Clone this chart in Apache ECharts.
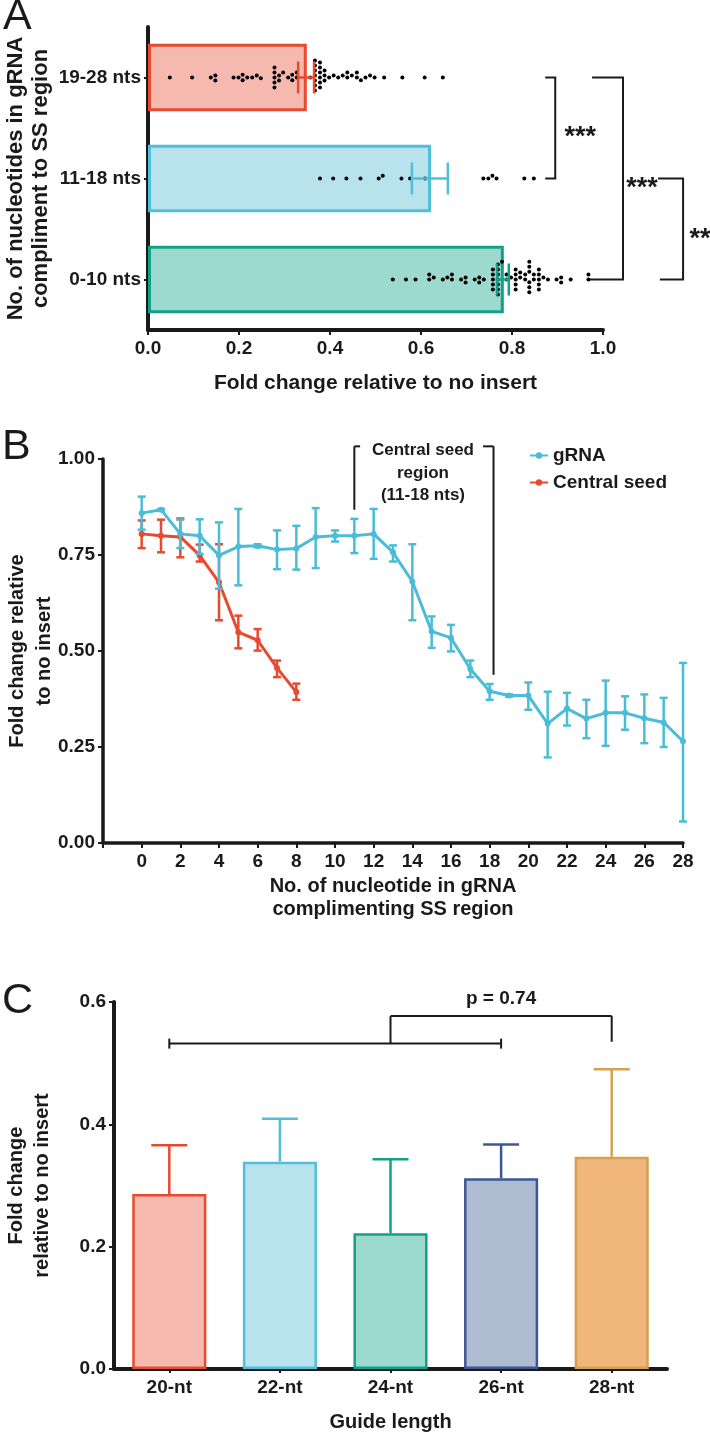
<!DOCTYPE html>
<html>
<head>
<meta charset="utf-8">
<script src="https://cdn.jsdelivr.net/npm/echarts@6/dist/echarts.min.js"></script>
<style>
    html, body { margin: 0; padding: 0; background: #fff; }
    #chart { width: 710px; height: 1433px; }
</style>
</head>
<body>
<div id="chart"></div>
<script>
// ---------- panel A : fold change by complementary region ----------
var aCategories = ['0-10 nts', '11-18 nts', '19-28 nts'];
var aMeans = [0.782, 0.622, 0.349];
var aErrLow = [0.767, 0.580, 0.330];
var aErrHigh = [0.793, 0.659, 0.365];
var aTicks = [0, 0.2, 0.4, 0.6, 0.8, 1.0];
var aDots0to10 = [0.538, 0.567, 0.588, 0.618, 0.618, 0.628, 0.648, 0.658, 0.668, 0.668,
    0.688, 0.698, 0.698, 0.718, 0.728, 0.728, 0.738, 0.758, 0.758, 0.758, 0.758, 0.758,
    0.769, 0.769, 0.769, 0.769, 0.769, 0.769, 0.769, 0.778, 0.788, 0.788, 0.798,
    0.808, 0.808, 0.808, 0.808, 0.808, 0.818, 0.818, 0.829, 0.829,
    0.838, 0.838, 0.838, 0.838, 0.838, 0.838, 0.848, 0.848,
    0.859, 0.859, 0.859, 0.859, 0.859, 0.869, 0.879, 0.898, 0.908, 0.908, 0.929, 0.968, 0.968];
var aDots11to18 = [0.378, 0.407, 0.436, 0.467, 0.507, 0.516, 0.557, 0.576, 0.609,
    0.737, 0.748, 0.757, 0.766, 0.827, 0.848];
var aDots19to28 = [0.048, 0.097, 0.138, 0.148, 0.148, 0.188, 0.199, 0.208, 0.208, 0.218,
    0.229, 0.239, 0.248, 0.278, 0.278, 0.278, 0.278, 0.278, 0.288, 0.288, 0.297, 0.308,
    0.317, 0.317, 0.327, 0.327, 0.357, 0.367, 0.367, 0.367, 0.367, 0.367, 0.367, 0.367,
    0.378, 0.378, 0.378, 0.378, 0.378, 0.378, 0.388, 0.388, 0.388, 0.398, 0.408, 0.418,
    0.428, 0.438, 0.438, 0.448, 0.459, 0.459, 0.468, 0.478, 0.488, 0.498, 0.519, 0.559,
    0.608, 0.648];

// ---------- panel B : per-position mismatch ----------
var bPositions = [0, 1, 2, 3, 4, 5, 6, 7, 8, 9, 10, 11, 12, 13, 14, 15, 16, 17, 18, 19, 20,
    21, 22, 23, 24, 25, 26, 27, 28];
var bGrnaMean = [0.859, 0.868, 0.805, 0.800, 0.749, 0.772, 0.774, 0.764, 0.767, 0.797, 0.800,
    0.800, 0.805, 0.757, 0.681, 0.551, 0.534, 0.453, 0.395, 0.384, 0.384, 0.311, 0.350,
    0.324, 0.339, 0.339, 0.325, 0.314, 0.265];
var bGrnaLow = [0.816, 0.866, 0.768, 0.753, 0.662, 0.671, 0.770, 0.713, 0.712, 0.716, 0.785,
    0.755, 0.740, 0.733, 0.580, 0.508, 0.499, 0.432, 0.373, 0.381, 0.347, 0.223, 0.306,
    0.273, 0.253, 0.295, 0.260, 0.250, 0.056];
var bGrnaHigh = [0.902, 0.870, 0.842, 0.843, 0.835, 0.870, 0.778, 0.814, 0.826, 0.872, 0.814,
    0.844, 0.870, 0.775, 0.778, 0.590, 0.568, 0.475, 0.414, 0.387, 0.418, 0.394, 0.391,
    0.373, 0.423, 0.382, 0.387, 0.378, 0.469];
var bSeedPositions = [0, 1, 2, 3, 4, 5, 6, 7, 8];
var bSeedMean = [0.805, 0.800, 0.797, 0.749, 0.679, 0.549, 0.528, 0.456, 0.393];
var bSeedLow = [0.768, 0.757, 0.744, 0.733, 0.580, 0.507, 0.501, 0.432, 0.373];
var bSeedHigh = [0.840, 0.842, 0.845, 0.777, 0.778, 0.592, 0.557, 0.475, 0.415];

// ---------- panel C : guide length ----------
var cCategories = ['20-nt', '22-nt', '24-nt', '26-nt', '28-nt'];
var cMeans = [0.286, 0.339, 0.222, 0.312, 0.347];
var cErrHigh = [0.366, 0.409, 0.343, 0.367, 0.490];

// styles
var FONT = "'Liberation Sans', Arial, Helvetica, sans-serif";
var INK = '#1a1a1a';
var BLUE = '#4bbcd8';
var RED = '#e84a2f';
var aFill = ['#9cdad0', '#b8e3ec', '#f5b9af'];
var aLine = ['#13a086', '#52bfd9', '#e84a2f'];
var cFill = ['#f5b9af', '#b8e3ec', '#9cdad0', '#afbbd0', '#f0b67a'];
var cLine = ['#e84a2f', '#52bfd9', '#13a086', '#3d5796', '#d5a04f'];

var chart = echarts.init(document.getElementById('chart'));

function axisBase(width) {
    return {
        nameMoveOverlap: false,
        axisLine: { show: true, onZero: false, lineStyle: { color: INK, width: width } },
        axisTick: { show: true, inside: false, length: 5, lineStyle: { color: INK, width: 2 } },
        axisLabel: { color: INK, fontSize: 19, fontWeight: 'bold', fontFamily: FONT },
        splitLine: { show: false },
        nameTextStyle: { color: INK, fontSize: 20, fontWeight: 'bold', fontFamily: FONT, lineHeight: 24 }
    };
}

function merge(a, b) {
    return echarts.util.merge(echarts.util.clone(a), b, true);
}

function line(p1, p2, color, w) {
    return { type: 'line', shape: { x1: p1[0], y1: p1[1], x2: p2[0], y2: p2[1] },
        style: { stroke: color, lineWidth: w || 2 } };
}

function label(text, x, y, size) {
    return { type: 'text', x: x, y: y,
        style: { text: text, fill: INK, fontSize: size, fontWeight: 'bold', fontFamily: FONT,
            align: 'center', verticalAlign: 'middle' } };
}

// error bars
var aErrData = aMeans.map(function (m, i) { return [aErrLow[i], aErrHigh[i], i]; });
var bGrnaErr = bPositions.map(function (p, i) { return [p, bGrnaLow[i], bGrnaHigh[i]]; });
var bSeedErr = bSeedPositions.map(function (p, i) { return [p, bSeedLow[i], bSeedHigh[i]]; });
var cErrData = cMeans.map(function (m, i) { return [i, m, cErrHigh[i]]; });

var aDotData = [];
[aDots0to10, aDots11to18, aDots19to28].forEach(function (arr, ci) {
    arr.forEach(function (v) { aDotData.push([v, ci]); });
});

function vErr(color, capHalf) {
    return function (params, api) {
        var lo = api.coord([api.value(0), api.value(1)]);
        var hi = api.coord([api.value(0), api.value(2)]);
        return { type: 'group', children: [
            line(lo, hi, color, 2.5),
            line([lo[0] - capHalf, lo[1]], [lo[0] + capHalf, lo[1]], color, 2.5),
            line([hi[0] - capHalf, hi[1]], [hi[0] + capHalf, hi[1]], color, 2.5)
        ] };
    };
}

var option = {
    animation: false,
    backgroundColor: '#fff',
    textStyle: { fontFamily: FONT, color: INK },
    grid: [
        { left: 148, top: 27, width: 455, height: 303, outerBoundsMode: 'none', containLabel: false },
        { left: 103, top: 459, width: 580, height: 384, outerBoundsMode: 'none', containLabel: false },
        { left: 114, top: 1002, width: 553, height: 367, outerBoundsMode: 'none', containLabel: false }
    ],
    legend: {
        data: ['gRNA', 'Central seed'],
        orient: 'vertical', left: 524, top: 441, itemWidth: 18, itemHeight: 8, itemGap: 8,
        selectedMode: false,
        textStyle: { color: INK, fontSize: 19, fontWeight: 'bold', fontFamily: FONT }
    },
    xAxis: [
        merge(axisBase(4), {
            gridIndex: 0, type: 'value', min: aTicks[0], max: aTicks[aTicks.length - 1], interval: 0.2,
            name: 'Fold change relative to no insert', nameLocation: 'middle', nameGap: 41,
            nameTextStyle: { fontSize: 21 },
            axisLabel: { margin: 9, formatter: function (v) { return v.toFixed(1); } }
        }),
        merge(axisBase(3.5), {
            gridIndex: 1, type: 'value', min: -2, max: 28, interval: 2,
            name: 'No. of nucleotide in gRNA\ncomplimenting SS region', nameLocation: 'middle', nameGap: 32,
            nameTextStyle: { lineHeight: 23 },
            axisLabel: { margin: 9, formatter: function (v) { return v < 0 ? '' : v; } }
        }),
        merge(axisBase(4), {
            gridIndex: 2, type: 'category', data: cCategories,
            name: 'Guide length', nameLocation: 'middle', nameGap: 41,
            axisTick: { alignWithLabel: true, length: 4 },
            axisLabel: { margin: 9 }
        })
    ],
    yAxis: [
        merge(axisBase(4), {
            gridIndex: 0, type: 'category', data: aCategories,
            jitter: 60, jitterOverlap: false, jitterMargin: 1,
            name: 'No. of nucleotides in gRNA\ncompliment to SS region', nameLocation: 'middle', nameGap: 95,
            nameTextStyle: { fontSize: 22, lineHeight: 25 },
            axisTick: { alignWithLabel: true, length: 4 },
            axisLabel: { margin: 7 }
        }),
        merge(axisBase(3.5), {
            gridIndex: 1, type: 'value', min: 0, max: 1, interval: 0.25,
            name: 'Fold change relative\nto no insert', nameLocation: 'middle', nameGap: 45,
            nameTextStyle: { lineHeight: 27 },
            axisLabel: { margin: 8, formatter: function (v) { return v.toFixed(2); } }
        }),
        merge(axisBase(4), {
            gridIndex: 2, type: 'value', min: 0, max: 0.6, interval: 0.2,
            name: 'Fold change\nrelative to no insert', nameLocation: 'middle', nameGap: 59,
            nameTextStyle: { lineHeight: 26 },
            axisLabel: { margin: 8, formatter: function (v) { return v.toFixed(1); } }
        })
    ],
    graphic: [
        { type: 'text', left: 3, top: -4, style: { text: 'A', fontSize: 43, fontFamily: FONT, fill: INK } },
        { type: 'text', left: 2, top: 426, style: { text: 'B', fontSize: 43, fontFamily: FONT, fill: INK } },
        { type: 'text', left: 2, top: 980, style: { text: 'C', fontSize: 43, fontFamily: FONT, fill: INK } }
    ],
    series: [
        // panel A
        {
            type: 'bar', xAxisIndex: 0, yAxisIndex: 0, barCategoryGap: '33%',
            data: aMeans.map(function (v, i) {
                return { value: v, itemStyle: { color: aFill[i], borderColor: aLine[i], borderWidth: 3 } };
            })
        },
        {
            type: 'scatter', xAxisIndex: 0, yAxisIndex: 0, data: aDotData,
            symbolSize: 4, itemStyle: { color: '#000', opacity: 1 }, z: 4
        },
        {
            type: 'custom', xAxisIndex: 0, yAxisIndex: 0, data: aErrData, z: 5,
            encode: { x: [0, 1], y: 2 },
            renderItem: function (params, api) {
                var i = params.dataIndex;
                var lo = api.coord([api.value(0), api.value(2)]);
                var hi = api.coord([api.value(1), api.value(2)]);
                var c = aLine[i];
                return { type: 'group', children: [
                    line(lo, hi, c, 2.5),
                    line([lo[0], lo[1] - 16], [lo[0], lo[1] + 16], c, 2.5),
                    line([hi[0], hi[1] - 16], [hi[0], hi[1] + 16], c, 2.5)
                ] };
            }
        },
        {
            type: 'custom', xAxisIndex: 0, yAxisIndex: 0, data: [[0, 0]], clip: false, silent: true,
            renderItem: function (params, api) {
                var p = function (x, c) { return api.coord([x, c]); };
                var k = [];
                // 19-28 vs 11-18
                k.push(line(p(0.873, 2), p(0.897, 2), INK), line(p(0.895, 2), p(0.895, 1), INK),
                    line(p(0.897, 1), p(0.873, 1), INK));
                var m1 = (p(0.895, 2)[1] + p(0.895, 1)[1]) / 2;
                k.push(label('***', p(0.895, 1)[0] + 25, m1 + 10, 27));
                // 19-28 vs 0-10
                k.push(line(p(0.976, 2), p(1.046, 2), INK), line(p(1.044, 2), p(1.044, 0), INK),
                    line(p(1.046, 0), p(0.971, 0), INK));
                var m2 = (p(1.044, 2)[1] + p(1.044, 0)[1]) / 2;
                k.push(label('***', p(1.044, 0)[0] + 19, m2 + 10, 27));
                // 11-18 vs 0-10
                k.push(line(p(1.121, 1), p(1.178, 1), INK), line(p(1.176, 1), p(1.176, 0), INK),
                    line(p(1.178, 0), p(1.125, 0), INK));
                var m3 = (p(1.176, 1)[1] + p(1.176, 0)[1]) / 2;
                k.push(label('**', p(1.176, 0)[0] + 17, m3 + 11, 27));
                return { type: 'group', children: k };
            }
        },
        // panel B
        {
            name: 'Central seed', type: 'line', xAxisIndex: 1, yAxisIndex: 1,
            data: bSeedPositions.map(function (p, i) { return [p, bSeedMean[i]]; }),
            symbol: 'circle', symbolSize: 6, color: RED,
            lineStyle: { color: RED, width: 3 }, itemStyle: { color: RED }, z: 2
        },
        {
            type: 'custom', xAxisIndex: 1, yAxisIndex: 1, data: bSeedErr, z: 2,
            encode: { x: 0, y: [1, 2] }, renderItem: vErr(RED, 4)
        },
        {
            name: 'gRNA', type: 'line', xAxisIndex: 1, yAxisIndex: 1,
            data: bPositions.map(function (p, i) { return [p, bGrnaMean[i]]; }),
            symbol: 'circle', symbolSize: 6, color: BLUE,
            lineStyle: { color: BLUE, width: 3 }, itemStyle: { color: BLUE }, z: 3
        },
        {
            type: 'custom', xAxisIndex: 1, yAxisIndex: 1, data: bGrnaErr, z: 3,
            encode: { x: 0, y: [1, 2] }, renderItem: vErr(BLUE, 4)
        },
        {
            type: 'custom', xAxisIndex: 1, yAxisIndex: 1, data: [[0, 0]], clip: false, silent: true, z: 6,
            renderItem: function (params, api) {
                var p = function (x, y) { return api.coord([x, y]); };
                var k = [
                    line(p(11, 0.868), p(11, 1.033), INK), line(p(11, 1.033), p(11.3, 1.033), INK),
                    line(p(17.66, 1.033), p(18.2, 1.033), INK), line(p(18.2, 1.033), p(18.2, 0.438), INK)
                ];
                var cx = p(14.55, 0)[0];
                k.push(label('Central seed', cx, p(0, 1.022)[1], 17),
                    label('region', cx, p(0, 0.963)[1], 17),
                    label('(11-18 nts)', cx, p(0, 0.905)[1], 17));
                return { type: 'group', children: k };
            }
        },
        // panel C
        {
            type: 'bar', xAxisIndex: 2, yAxisIndex: 2, barCategoryGap: '33%',
            data: cMeans.map(function (v, i) {
                return { value: v, itemStyle: { color: cFill[i], borderColor: cLine[i], borderWidth: 2.5 } };
            })
        },
        {
            type: 'custom', xAxisIndex: 2, yAxisIndex: 2, data: cErrData, z: 3,
            encode: { x: 0, y: [1, 2] },
            renderItem: function (params, api) {
                var c = cLine[params.dataIndex];
                var lo = api.coord([api.value(0), api.value(1)]);
                var hi = api.coord([api.value(0), api.value(2)]);
                return { type: 'group', children: [
                    line(lo, hi, c, 2.5),
                    line([hi[0] - 18, hi[1]], [hi[0] + 18, hi[1]], c, 2.5)
                ] };
            }
        },
        {
            type: 'custom', xAxisIndex: 2, yAxisIndex: 2, data: [[0, 0]], clip: false, silent: true,
            renderItem: function (params, api) {
                var p = function (x, y) { return api.coord([x, y]); };
                var a = p(0.06, 0.532), b = p(3.15, 0.532);
                var k = [
                    line(a, b, INK), line([a[0], a[1] - 5], [a[0], a[1] + 5], INK),
                    line([b[0], b[1] - 5], [b[0], b[1] + 5], INK),
                    line(p(1.68, 0.532), p(1.68, 0.577), INK), line(p(1.68, 0.577), p(3.95, 0.577), INK),
                    line(p(3.95, 0.577), p(3.95, 0.535), INK),
                    label('p = 0.74', p(2.89, 0)[0], p(0, 0.606)[1], 19)
                ];
                return { type: 'group', children: k };
            }
        }
    ]
};

chart.setOption(option);
</script>
</body>
</html>
